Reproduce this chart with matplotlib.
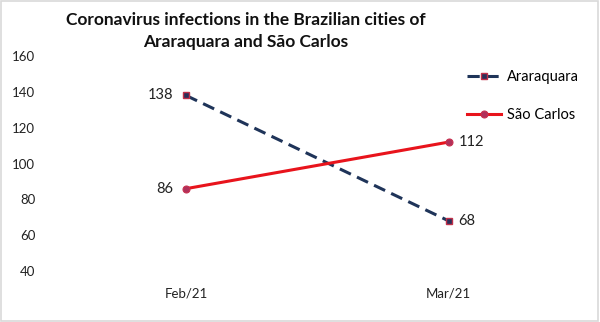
import matplotlib
matplotlib.use("Agg")
import matplotlib.pyplot as plt
from matplotlib.patches import Rectangle

categories = ["Feb/21", "Mar/21"]
araraquara = [138, 68]
sao_carlos = [86, 112]
yticks = [40, 60, 80, 100, 120, 140, 160]

plt.rcParams['font.family'] = ['Lato', 'DejaVu Sans']

fig = plt.figure(figsize=(6, 3.22), dpi=100)
ax = fig.add_axes([0.091, 0.158, 0.876, 0.668])

x = list(range(len(categories)))
navy = "#1f3459"
red = "#e8141c"
ax.plot(x, araraquara, color=navy, lw=2.2, ls=(0, (4, 2.2)), marker="s", ms=5,
        mfc="#2a2f5a", mec="#c0304a", mew=1.0, label="Araraquara")
ax.plot(x, sao_carlos, color=red, lw=2.2, marker="o", ms=5,
        mfc="#b0305a", mec="#c83050", mew=0.8, label="São Carlos")

ax.annotate(str(araraquara[0]), (x[0], araraquara[0]), xytext=(-9, 0), textcoords="offset points",
            ha="right", va="center", fontsize=10.5, color="#222222")
ax.annotate(str(sao_carlos[0]), (x[0], sao_carlos[0]), xytext=(-9, 0), textcoords="offset points",
            ha="right", va="center", fontsize=10.5, color="#222222")
ax.annotate(str(sao_carlos[1]), (x[1], sao_carlos[1]), xytext=(7, 0), textcoords="offset points",
            ha="left", va="center", fontsize=10.5, color="#222222")
ax.annotate(str(araraquara[1]), (x[1], araraquara[1]), xytext=(7, 0), textcoords="offset points",
            ha="left", va="center", fontsize=10.5, color="#222222")

ax.set_xlim(-0.5, 1.5)
ax.set_ylim(40, 160)
ax.set_yticks(yticks)
ax.set_xticks(x)
ax.set_xticklabels(categories)
ax.tick_params(length=0, labelsize=9.5, colors="#222222")
ax.tick_params(axis="x", pad=12)
ax.tick_params(axis="y", pad=14)
for s in ax.spines.values():
    s.set_visible(False)

leg = ax.legend(loc="upper left", bbox_to_anchor=(0.76, 0.995), frameon=False, fontsize=10.5,
                handlelength=2.3, labelspacing=1.65, handletextpad=0.4)

fig.text(0.41, 0.962, "Coronavirus infections in the Brazilian cities of\nAraraquara and São Carlos",
         ha="center", va="top", multialignment="center", fontsize=12.5, fontweight="bold",
         linespacing=1.45, color="#111111")

fig.patches.append(Rectangle((0.002, 0.003), 0.995, 0.993, transform=fig.transFigure,
                             fill=False, edgecolor="#d9d9d9", lw=1.2))

fig.savefig("out.png", dpi=100)
